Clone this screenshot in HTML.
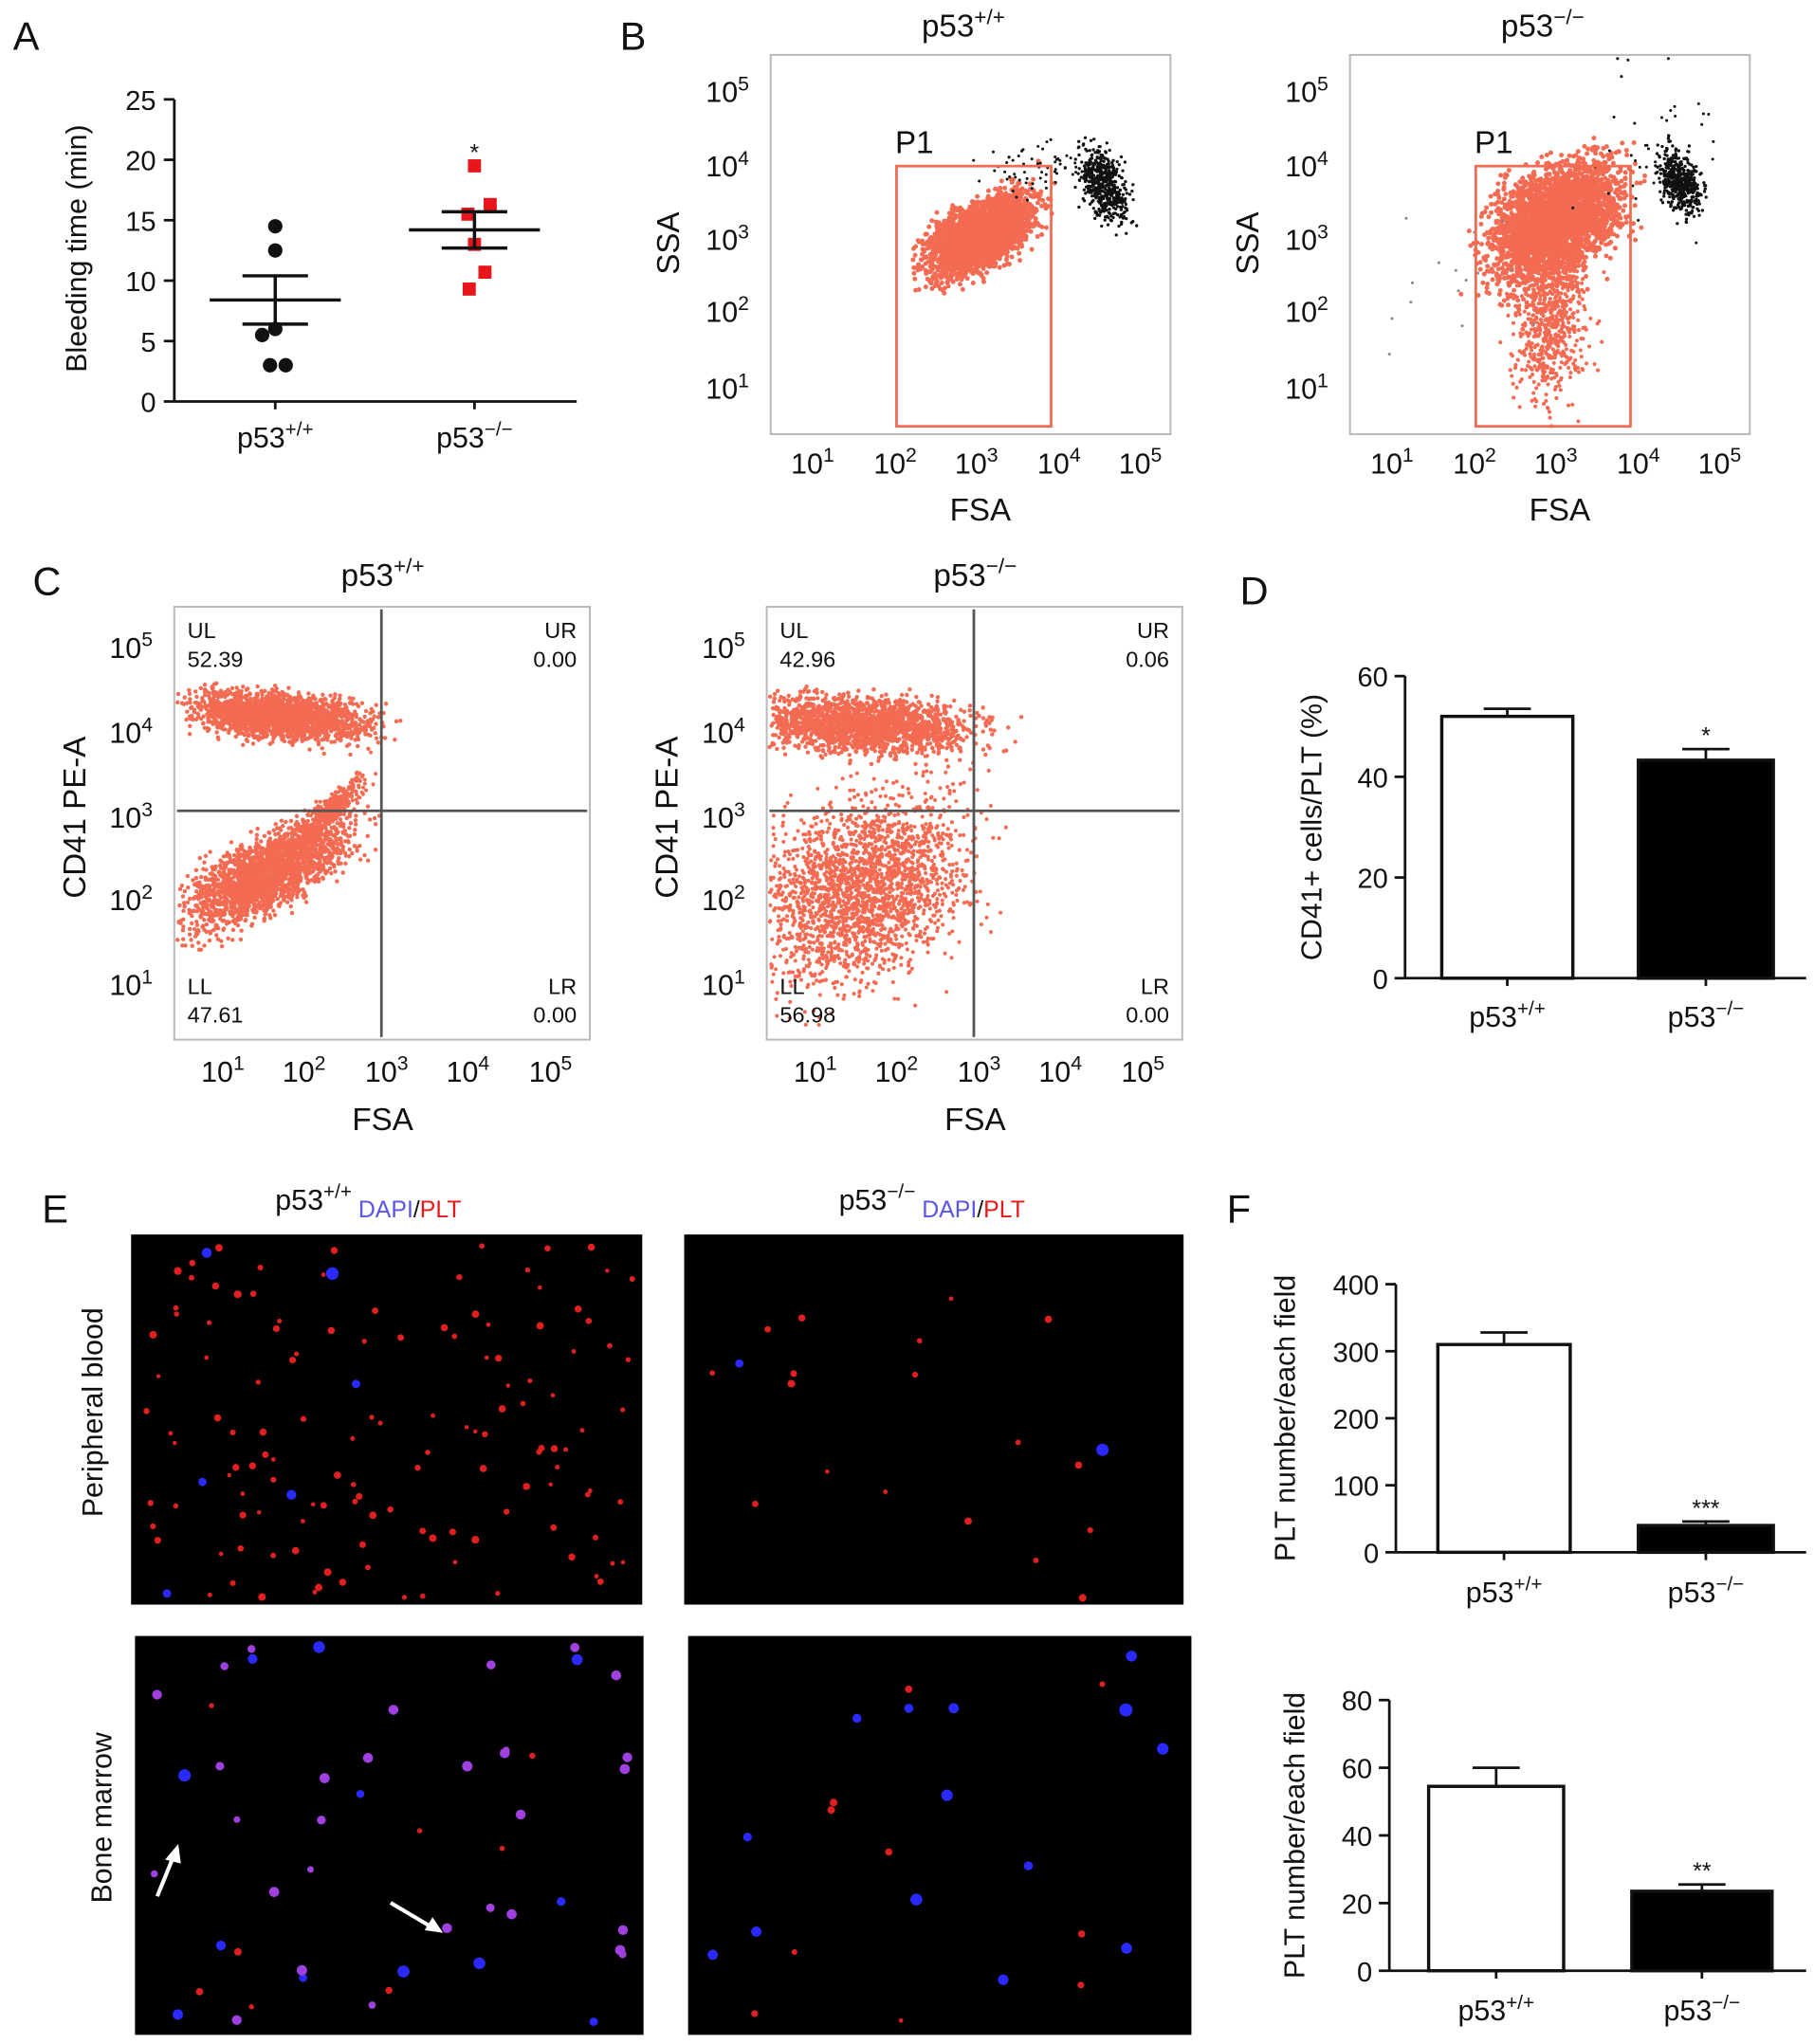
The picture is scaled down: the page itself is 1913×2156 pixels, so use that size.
<!DOCTYPE html>
<html><head><meta charset="utf-8">
<style>
html,body{margin:0;padding:0;background:#fff;}
svg{display:block;font-family:"Liberation Sans",Arial,sans-serif;}
</style></head>
<body>
<svg id="fig" width="1913" height="2156" viewBox="0 0 1384 1563" preserveAspectRatio="none" xmlns="http://www.w3.org/2000/svg"></svg>
<script>
// ---- Panel A data ----
const aCategories = ["p53+/+", "p53-/-"];
const aWildPoints = [14.5, 12.5, 6, 5.5, 3, 3];
const aKnockPoints = [19.5, 16.3, 15.5, 13, 10.7, 9.3];
const aMeans = [8.4, 14.2];
const aSem = [2.0, 1.5];
const aTicks = [0, 5, 10, 15, 20, 25];
// ---- Panel D data ----
const dValues = [52, 43.3];
const dErr = [53.5, 45.5];
const dTicks = [0, 20, 40, 60];
// ---- Panel F data ----
const fTopValues = [310, 40];
const fTopErr = [328, 46];
const fTopTicks = [0, 100, 200, 300, 400];
const fBotValues = [54.5, 23.5];
const fBotErr = [60, 25.5];
const fBotTicks = [0, 20, 40, 60, 80];
// ---- quadrant stats ----
const cLeftStats = ["52.39", "0.00", "47.61", "0.00"];
const cRightStats = ["42.96", "0.06", "56.98", "0.00"];

const svg = document.getElementById('fig');
const NS = "http://www.w3.org/2000/svg";
function el(tag, attrs, parent) {
  const e = document.createElementNS(NS, tag);
  for (const k in attrs) e.setAttribute(k, attrs[k]);
  (parent || svg).appendChild(e);
  return e;
}
function txt(x, y, s, size, anchor, parent, fill) {
  const t = el('text', {x: x, y: y, 'font-size': size, 'text-anchor': anchor || 'middle', fill: fill || '#111'}, parent);
  t.textContent = s;
  return t;
}
function pLabel(x, y, sup, size, parent) {
  const t = el('text', {x: x, y: y, 'font-size': size, 'text-anchor': 'middle', fill: '#111'}, parent);
  const a = document.createElementNS(NS, 'tspan'); a.textContent = "p53"; t.appendChild(a);
  const b = document.createElementNS(NS, 'tspan'); b.setAttribute('dy', -size * 0.4); b.setAttribute('font-size', size * 0.68); b.textContent = sup; t.appendChild(b);
  return t;
}
function pow10(x, y, e, size, parent) {
  const t = el('text', {x: x, y: y, 'font-size': size, 'text-anchor': 'middle', fill: '#111'}, parent);
  const a = document.createElementNS(NS, 'tspan'); a.textContent = "10"; t.appendChild(a);
  const b = document.createElementNS(NS, 'tspan'); b.setAttribute('dy', -size * 0.4); b.setAttribute('font-size', size * 0.7); b.textContent = e; t.appendChild(b);
  return t;
}
function line(x1, y1, x2, y2, w, c, parent) {
  return el('line', {x1: x1, y1: y1, x2: x2, y2: y2, stroke: c || '#111', 'stroke-width': w || 2}, parent);
}
function ytitle(x, y, s, size) {
  const t = txt(x, y, s, size, 'middle');
  t.setAttribute('transform', 'rotate(-90 ' + x + ' ' + y + ')');
  return t;
}
let seed = 12345;
function rnd() { seed = (seed * 1103515245 + 12345) % 2147483648; return seed / 2147483648; }
function gauss() { return (rnd() + rnd() + rnd() + rnd() - 2) / 0.58; }

// panel letters
[["A", 10, 38], ["B", 473, 38], ["C", 25, 455], ["D", 946, 462], ["E", 32, 935], ["F", 936, 935]].forEach(function (p) {
  const t = txt(p[1], p[2], p[0], 30, 'start');
  
  
});

// ===== Panel A =====
(function () {
  const g = el('g', {});
  
  
  const y0 = 307, y1 = 76, x0 = 133;
  const ys = v => y0 - (v / 25) * (y0 - y1);
  const cx = [210, 362];
  line(x0, y1, x0, y0, 2, '#111', g);
  line(x0, y0, 440, y0, 2, '#111', g);
  aTicks.forEach(function (t) {
    line(x0 - 8, ys(t), x0, ys(t), 2, '#111', g);
    txt(x0 - 14, ys(t) + 8, String(t), 21, 'end', g);
  });
  cx.forEach(c => line(c, y0, c, y0 + 6, 2, '#111', g));
  pLabel(cx[0], 342, "+/+", 22, g);
  pLabel(cx[1], 342, "\u2212/\u2212", 22, g);
  ytitle(66, 190, "Bleeding time (min)", 22);
  const offs = [0, 0, 0, -10, -4, 8];
  const offs2 = [0, 12, -5, 0, 8, -4];
  aWildPoints.forEach(function (v, i) {
    const c = el('circle', {cx: cx[0] + offs[i], cy: ys(v), r: 5.5, fill: '#111'}, g);
    
    
  });
  aKnockPoints.forEach(function (v, i) {
    const r = el('rect', {x: cx[1] + offs2[i] - 5, y: ys(v) - 5, width: 10, height: 10, fill: '#e8161b'}, g);
    
    
  });
  [0, 1].forEach(function (i) {
    line(cx[i] - 50, ys(aMeans[i]), cx[i] + 50, ys(aMeans[i]), 2.5, '#111', g);
    line(cx[i], ys(aMeans[i] - aSem[i]), cx[i], ys(aMeans[i] + aSem[i]), 2.5, '#111', g);
    line(cx[i] - 25, ys(aMeans[i] + aSem[i]), cx[i] + 25, ys(aMeans[i] + aSem[i]), 2.5, '#111', g);
    line(cx[i] - 25, ys(aMeans[i] - aSem[i]), cx[i] + 25, ys(aMeans[i] - aSem[i]), 2.5, '#111', g);
  });
  txt(cx[1], ys(Math.max.apply(null, aKnockPoints)) - 4, "*", 18, 'middle', g);
})();

function flowFrame(x0, y0, w, h, name) {
  const g = el('g', {});
  
  
  el('rect', {x: x0, y: y0, width: w, height: h, fill: '#fff', stroke: '#bbb', 'stroke-width': 1.5}, g);
  return g;
}
function cloud(g, n, cx, cy, sx, sy, corr, color, r, box) {
  for (let i = 0; i < n; i++) {
    const a = gauss(), b = gauss();
    let x = cx + a * sx, y = cy + (corr * a + Math.sqrt(1 - corr * corr) * b) * sy;
    if (box && (x < box[0] || x > box[2] || y < box[1] || y > box[3])) continue;
    el('circle', {cx: x.toFixed(1), cy: y.toFixed(1), r: r, fill: color}, g);
  }
}

// ===== Panel B =====
[[0, "+/+", false], [442, "\u2212/\u2212", true]].forEach(function (cfg) {
  const o = cfg[0];
  const g = flowFrame(588 + o, 42, 305, 290, 'panel-b-flow-plot-' + (o ? 'knockout' : 'wild-type'));
  pLabel(735 + o, 28, cfg[1], 24, g);
  const yT = [297, 238, 183, 127, 70];
  const xT = [620, 683, 745, 808, 870];
  yT.forEach((y, i) => pow10(555 + o, y + 8, String(i + 1), 22, g));
  xT.forEach((x, i) => pow10(x + o, 362, String(i + 1), 22, g));
  txt(748 + o, 398, "FSA", 24, 'middle', g);
  const t = txt(518 + o, 186, "SSA", 24, 'middle', g);
  t.setAttribute('transform', 'rotate(-90 ' + (518 + o) + ' 186)');
  const box = [590 + o, 44, 891 + o, 330];
  if (!cfg[2]) {
    cloud(g, 2800, 748 + o, 180, 19, 15, -0.55, '#f26b52', 1.8, box);
    cloud(g, 500, 843 + o, 142, 9, 14, 0.4, '#111', 1.2, box);
    cloud(g, 60, 795 + o, 128, 22, 12, 0, '#111', 1.1, box);
  } else {
    cloud(g, 3000, 1187, 170, 24, 22, -0.4, '#f26b52', 1.8, box);
    cloud(g, 700, 1182, 245, 14, 30, 0, '#f26b52', 1.5, box);
    cloud(g, 450, 1282, 140, 8, 13, 0.4, '#111', 1.2, box);
    cloud(g, 40, 1265, 110, 25, 30, 0, '#111', 1.1, box);
    cloud(g, 15, 1100, 220, 30, 30, 0, '#888', 1.1, box);
  }
  el('rect', {x: 684 + o, y: 127, width: 118, height: 199, fill: 'none', stroke: '#f26b52', 'stroke-width': 2}, g);
  txt(683 + o, 117, "P1", 24, 'start', g);
});

// ===== Panel C =====
[[0, "+/+", cLeftStats, false], [452, "\u2212/\u2212", cRightStats, true]].forEach(function (cfg) {
  const o = cfg[0];
  const g = flowFrame(133 + o, 464, 317, 331, 'panel-c-flow-plot-' + (o ? 'knockout' : 'wild-type'));
  pLabel(292 + o, 448, cfg[1], 24, g);
  const yT = [753, 688, 625, 560, 495];
  const xT = [170, 232, 295, 357, 420];
  yT.forEach((y, i) => pow10(100 + o, y + 8, String(i + 1), 22, g));
  xT.forEach((x, i) => pow10(x + o, 827, String(i + 1), 22, g));
  txt(292 + o, 864, "FSA", 24, 'middle', g);
  const t = txt(65 + o, 625, "CD41 PE-A", 24, 'middle', g);
  t.setAttribute('transform', 'rotate(-90 ' + (65 + o) + ' 625)');
  const box = [135 + o, 466, 448 + o, 793];
  if (!cfg[3]) {
    cloud(g, 2000, 215, 548, 32, 9, 0.3, '#f26b52', 1.6, box);
    cloud(g, 2200, 205, 668, 30, 20, -0.7, '#f26b52', 1.6, box);
    cloud(g, 300, 255, 618, 12, 12, -0.85, '#f26b52', 1.5, box);
  } else {
    cloud(g, 1800, 660, 555, 40, 11, 0.2, '#f26b52', 1.6, box);
    cloud(g, 2200, 660, 680, 38, 35, -0.3, '#f26b52', 1.5, box);
  }
  line(291 + o, 466, 291 + o, 793, 2, '#555', g);
  line(135 + o, 620, 448 + o, 620, 2, '#555', g);
  const s = cfg[2];
  txt(143 + o, 488, "UL", 17, 'start', g); txt(143 + o, 510, s[0], 17, 'start', g);
  txt(440 + o, 488, "UR", 17, 'end', g); txt(440 + o, 510, s[1], 17, 'end', g);
  txt(143 + o, 760, "LL", 17, 'start', g); txt(143 + o, 782, s[2], 17, 'start', g);
  txt(440 + o, 760, "LR", 17, 'end', g); txt(440 + o, 782, s[3], 17, 'end', g);
});

// ===== Bar chart helper =====
function barChart(name, xAxis, yTop, yBot, max, ticks, bars, values, errs, xEnd, titleX, title, labelY, stars) {
  const g = el('g', {});
  
  
  const ys = v => yBot - (v / max) * (yBot - yTop);
  line(xAxis, yTop, xAxis, yBot, 2, '#111', g);
  line(xAxis, yBot, xEnd, yBot, 2, '#111', g);
  ticks.forEach(function (t) {
    line(xAxis - 8, ys(t), xAxis, ys(t), 2, '#111', g);
    txt(xAxis - 13, ys(t) + 8, String(t), 21, 'end', g);
  });
  ytitle(titleX, (yTop + yBot) / 2, title, 22);
  values.forEach(function (v, i) {
    const b = bars[i];
    const cx = b[0] + b[1] / 2;
    line(cx, ys(errs[i]), cx, ys(v), 2, '#111', g);
    line(cx - 18, ys(errs[i]), cx + 18, ys(errs[i]), 2, '#111', g);
    const r = el('rect', {x: b[0], y: ys(v), width: b[1], height: yBot - ys(v), fill: i ? '#000' : '#fff', stroke: '#111', 'stroke-width': 2.5}, g);
    
    
    line(cx, yBot, cx, yBot + 6, 2, '#111', g);
    if (i === 1) txt(cx, ys(errs[i]) - 4, stars, 18, 'middle', g);
  });
  pLabel(bars[0][0] + bars[0][1] / 2, labelY, "+/+", 22, g);
  pLabel(bars[1][0] + bars[1][1] / 2, labelY, "\u2212/\u2212", 22, g);
}
barChart('panel-d-bar-chart', 1072, 517, 748, 60, dTicks, [[1100, 100], [1250, 103]], dValues, dErr, 1378, 1008, "CD41+ cells/PLT (%)", 785, "*");
barChart('panel-f-peripheral-bar-chart', 1065, 982, 1187, 400, fTopTicks, [[1097, 101], [1250, 103]], fTopValues, fTopErr, 1378, 988, "PLT number/each field", 1225, "***");
barChart('panel-f-marrow-bar-chart', 1060, 1300, 1507, 80, fBotTicks, [[1090, 103], [1245, 107]], fBotValues, fBotErr, 1378, 995, "PLT number/each field", 1545, "**");

// ===== Panel E micrographs =====
(function () {
  const hdr = el('g', {});
  
  
  function head(x, sup) {
    const t = el('text', {x: x, y: 925, 'font-size': 22, 'text-anchor': 'start', fill: '#111'}, hdr);
    const a = document.createElementNS(NS, 'tspan'); a.textContent = "p53"; t.appendChild(a);
    const b = document.createElementNS(NS, 'tspan'); b.setAttribute('dy', -9); b.setAttribute('font-size', 15); b.textContent = sup; t.appendChild(b);
    const c = document.createElementNS(NS, 'tspan'); c.setAttribute('dy', 15); c.setAttribute('font-size', 18); c.setAttribute('fill', '#5a55e8'); c.textContent = " DAPI"; t.appendChild(c);
    const d = document.createElementNS(NS, 'tspan'); d.setAttribute('font-size', 18); d.setAttribute('fill', '#111'); d.textContent = "/"; t.appendChild(d);
    const e = document.createElementNS(NS, 'tspan'); e.setAttribute('font-size', 18); e.setAttribute('fill', '#e81818'); e.textContent = "PLT"; t.appendChild(e);
  }
  head(210, "+/+");
  head(640, "\u2212/\u2212");
  ytitle(78, 1080, "Peripheral blood", 22);
  ytitle(85, 1390, "Bone marrow", 22);
  const imgs = [
    [100, 944, 390, 283, 'peripheral-wild-type', 130, 6, 0],
    [522, 944, 381, 283, 'peripheral-knockout', 18, 2, 0],
    [103, 1251, 388, 305, 'marrow-wild-type', 8, 12, 30],
    [525, 1251, 384, 305, 'marrow-knockout', 10, 14, 0]
  ];
  imgs.forEach(function (m) {
    const g = el('g', {});
    
    
    el('rect', {x: m[0], y: m[1], width: m[2], height: m[3], fill: '#000'}, g);
    for (let i = 0; i < m[5]; i++) el('circle', {cx: m[0] + 5 + rnd() * (m[2] - 10), cy: m[1] + 5 + rnd() * (m[3] - 10), r: 1.6 + rnd() * 1.4, fill: '#e02020'}, g);
    for (let i = 0; i < m[6]; i++) el('circle', {cx: m[0] + 8 + rnd() * (m[2] - 16), cy: m[1] + 8 + rnd() * (m[3] - 16), r: 3 + rnd() * 2, fill: '#2a2aff'}, g);
    for (let i = 0; i < m[7]; i++) el('circle', {cx: m[0] + 8 + rnd() * (m[2] - 16), cy: m[1] + 8 + rnd() * (m[3] - 16), r: 2.5 + rnd() * 1.5, fill: '#a040e0'}, g);
  });
  const ar = el('g', {});
  
  
  line(120, 1450, 133, 1418, 3, '#fff', ar);
  el('polygon', {points: '136,1410 126,1422 138,1425', fill: '#fff'}, ar);
  line(298, 1455, 330, 1474, 3, '#fff', ar);
  el('polygon', {points: '338,1478 324,1476 330,1466', fill: '#fff'}, ar);
})();
</script>
</body></html>
